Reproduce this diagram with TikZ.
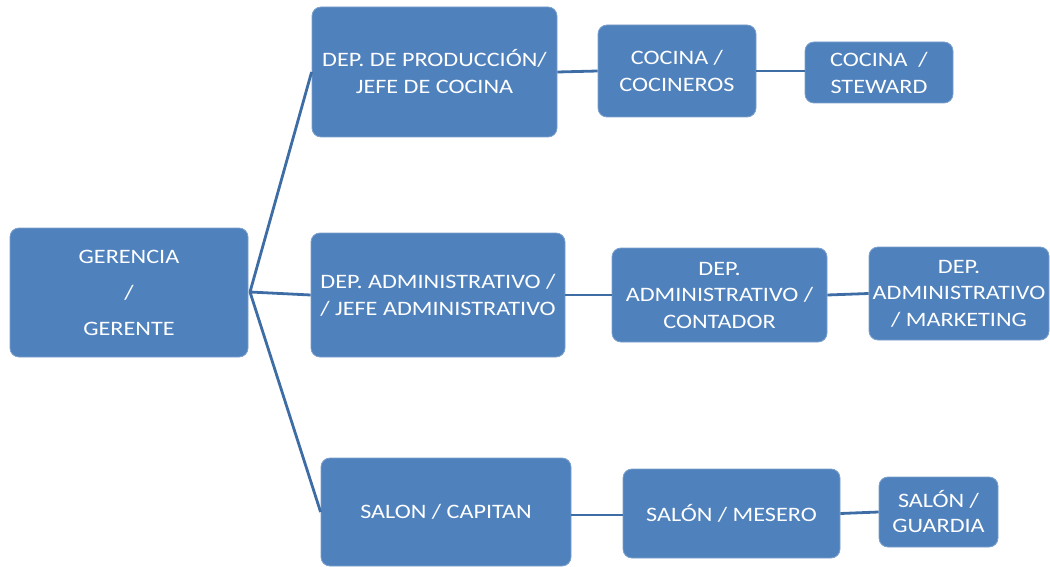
\documentclass[tikz,border=0pt]{standalone}
\usepackage{fontspec}
\setmainfont{Carlito}[FakeStretch=1.18]
\definecolor{boxblue}{HTML}{4F81BD}
\definecolor{lineblue}{HTML}{3E6DA6}
\tikzset{
  box/.style={rectangle, rounded corners=9pt, fill=boxblue, draw=boxblue!75!white,
    line width=0.8pt, text=white, align=center, inner sep=0pt,
    font=\fontsize{20.5}{27}\selectfont},
  conn/.style={draw=lineblue, line width=2.8pt}
}
\begin{document}
\begin{tikzpicture}[x=1pt,y=-1pt]
\useasboundingbox (0,0) rectangle (1050,567);
\node[box, minimum width=238, minimum height=129, font=\fontsize{20.5}{36}\selectfont] (ger) at (129,292.5) {GERENCIA\\/\\GERENTE};
\node[box, minimum width=245, minimum height=130] (prod) at (434.5,72) {DEP. DE PRODUCCIÓN/\\JEFE DE COCINA};
\node[box, minimum width=158, minimum height=92] (coc) at (677,71) {COCINA /\\COCINEROS};
\node[box, minimum width=148, minimum height=61] (stew) at (879,72.5) {COCINA\ \ /\\STEWARD};
\node[box, minimum width=254, minimum height=124] (adm) at (438,295) {DEP. ADMINISTRATIVO /\\/ JEFE ADMINISTRATIVO};
\node[box, minimum width=215, minimum height=94, font=\fontsize{20.5}{26.5}\selectfont] (cont) at (719.5,295) {DEP.\\ADMINISTRATIVO /\\CONTADOR};
\node[box, minimum width=180, minimum height=93, font=\fontsize{20.5}{26.5}\selectfont] (mark) at (959,293.5) {DEP.\\ADMINISTRATIVO\\/ MARKETING};
\node[box, minimum width=250, minimum height=108] (cap) at (446,512) {\raisebox{-3pt}{SALON / CAPITAN}};
\node[box, minimum width=217, minimum height=89] (mes) at (731.5,513.5) {SALÓN / MESERO};
\node[box, minimum width=119, minimum height=70, font=\fontsize{20.5}{25}\selectfont] (guar) at (938.5,512) {SALÓN /\\GUARDIA};
\coordinate (gj) at (250,292);
\coordinate (capo) at ([yshift=-3pt]cap.east);
\draw[conn] (gj) -- (prod.west);
\draw[conn] (gj) -- (adm.west);
\draw[conn] (gj) -- (cap.west);
\draw[conn] (prod.east) -- (coc.west);
\draw[conn] (coc.east) -- (coc.east -| stew.west);
\draw[conn] (adm.east) -- (cont.west);
\draw[conn] (cont.east) -- (mark.west);
\draw[conn] (capo) -- (capo -| mes.west);
\draw[conn] (mes.east) -- (guar.west);
\end{tikzpicture}
\end{document}
